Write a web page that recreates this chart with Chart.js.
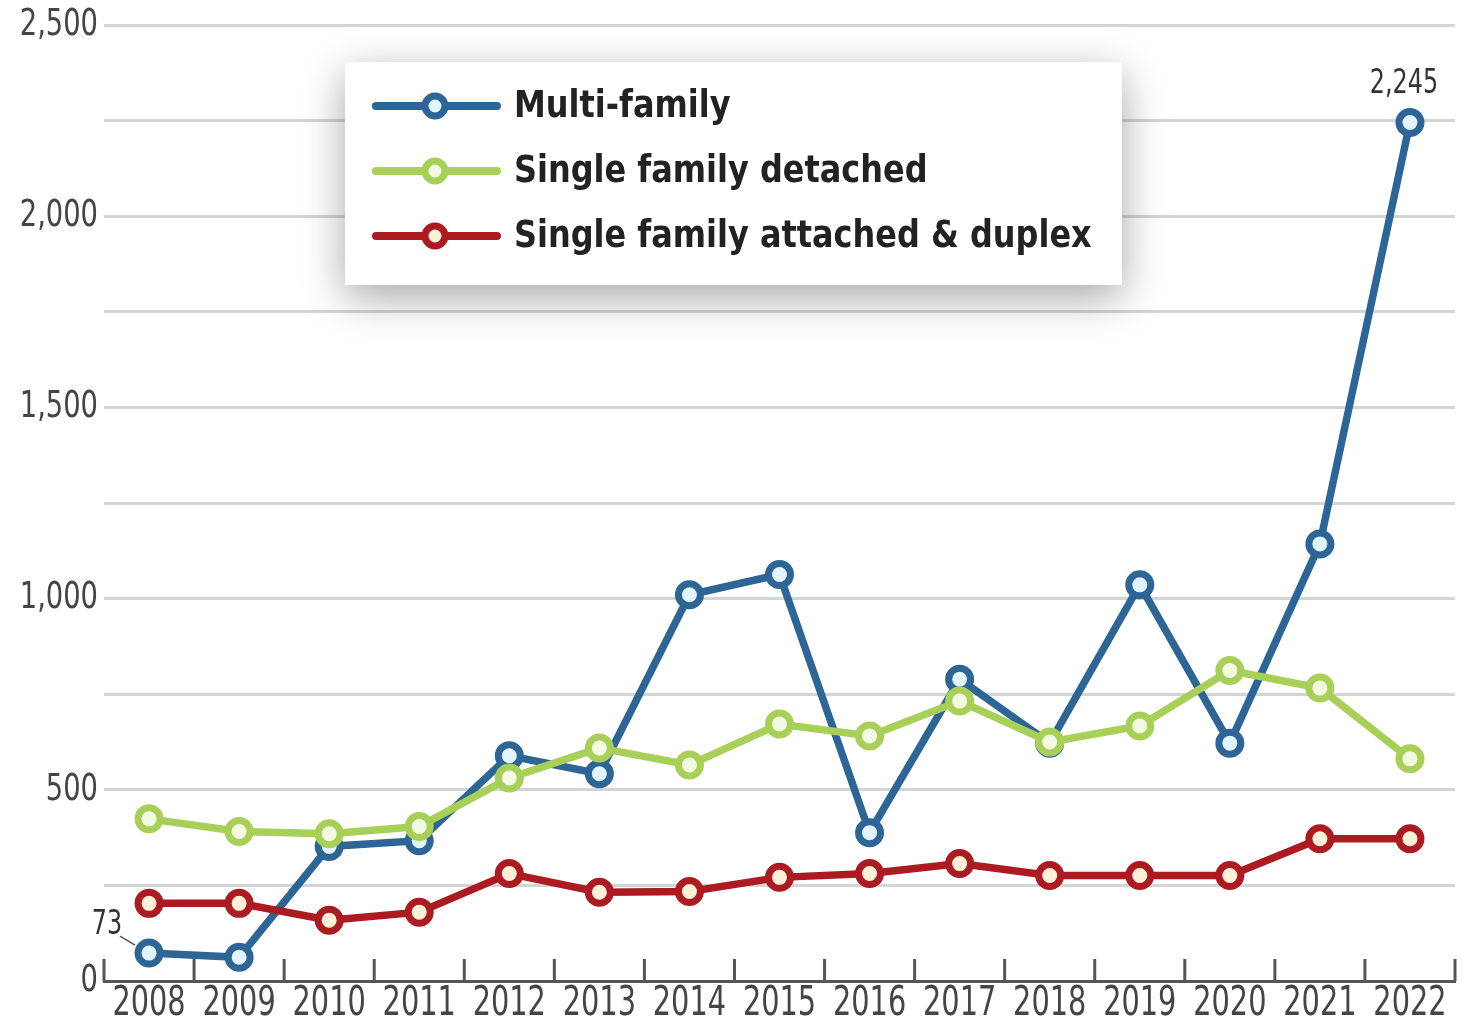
<!DOCTYPE html>
<html>
<head>
<meta charset="utf-8">
<script src="https://cdn.jsdelivr.net/npm/chart.js@4.4.1/dist/chart.umd.min.js"></script>
<style>
  html, body { margin: 0; padding: 0; background: #fff; }
  #wrap { position: relative; width: 1473px; height: 1026px; }
</style>
</head>
<body>
<div id="wrap"><canvas id="housingChart"></canvas></div>
<script>
// --- Data ---
const years = ['2008', '2009', '2010', '2011', '2012', '2013', '2014', '2015',
               '2016', '2017', '2018', '2019', '2020', '2021', '2022'];
const multiFamily = [73, 62, 352, 367, 589, 542, 1010, 1063, 388, 789, 622, 1036, 622, 1143, 2245];
const singleDetached = [424, 391, 385, 404, 531, 609, 565, 672, 641, 732, 625, 667, 812, 766, 581];
const singleAttached = [203, 203, 159, 180, 281, 232, 234, 271, 281, 307, 276, 276, 276, 372, 372];
const yTickLabels = [0, 500, 1000, 1500, 2000, 2500];
const seriesNames = ['Multi-family', 'Single family detached', 'Single family attached & duplex'];
const seriesColors = ['#2d6696', '#a8cf58', '#ab1b21'];
const pointFills = ['#e2f5ff', '#f3fae2', '#fff1d8'];

// No narrow font installed, so condensed text gets squeezed a bit more
const FONT = "'DejaVu Sans Condensed', 'DejaVu Sans', sans-serif";

function drawNarrow(ctx, text, x, y, align, squeeze) {
    ctx.save();
    ctx.translate(x, y);
    ctx.scale(squeeze, 1);
    ctx.textAlign = align;
    ctx.fillText(text, 0, 0);
    ctx.restore();
}

// Tick marks on the x axis pointing up into the plot, plus the tick labels
const axisTicks = {
    id: 'axisTicks',
    afterDraw(chart) {
        const { ctx, chartArea, scales: { x, y } } = chart;
        ctx.save();
        ctx.strokeStyle = '#555';
        ctx.lineWidth = 3;
        for (let i = 0; i <= years.length; i++) {
            const px = x.getPixelForValue(i - 0.5);
            ctx.beginPath();
            ctx.moveTo(px, chartArea.bottom);
            ctx.lineTo(px, chartArea.bottom - 22);
            ctx.stroke();
        }
        ctx.fillStyle = '#454545';
        ctx.textBaseline = 'middle';
        ctx.font = '40px ' + FONT;
        years.forEach((yr, i) => {
            drawNarrow(ctx, yr, x.getPixelForValue(i), chartArea.bottom + 24, 'center', 0.8);
        });
        ctx.font = '38px ' + FONT;
        yTickLabels.forEach(v => {
            drawNarrow(ctx, v.toLocaleString('en-US'), chartArea.left - 6, y.getPixelForValue(v), 'right', 0.8);
        });
        ctx.restore();
    }
};

// Boxed legend with drop shadow
const boxLegend = {
    id: 'boxLegend',
    beforeDatasetsDraw(chart) {
        const ctx = chart.ctx;
        const box = { x: 345, y: 62, w: 777, h: 223 };
        ctx.save();
        ctx.shadowColor = 'rgba(0,0,0,0.35)';
        ctx.shadowBlur = 40;
        ctx.shadowOffsetY = 12;
        ctx.fillStyle = '#fff';
        ctx.fillRect(box.x, box.y, box.w, box.h);
        ctx.restore();

        ctx.save();
        chart.data.datasets.forEach((ds, i) => {
            const cy = box.y + 44 + i * 65;
            ctx.strokeStyle = ds.borderColor;
            ctx.lineWidth = 8;
            ctx.lineCap = 'round';
            ctx.beginPath();
            ctx.moveTo(376, cy);
            ctx.lineTo(497, cy);
            ctx.stroke();
            ctx.beginPath();
            ctx.arc(435, cy, 10, 0, Math.PI * 2);
            ctx.fillStyle = ds.pointBackgroundColor;
            ctx.fill();
            ctx.lineWidth = 7;
            ctx.stroke();
            ctx.fillStyle = '#222';
            ctx.font = 'bold 37px ' + FONT;
            ctx.textBaseline = 'middle';
            drawNarrow(ctx, ds.label, 514, cy + 1, 'left', 0.96);
        });
        ctx.restore();
    }
};

// Value labels on the first and last multi-family points
const endLabels = {
    id: 'endLabels',
    afterDatasetsDraw(chart) {
        const ctx = chart.ctx;
        const pts = chart.getDatasetMeta(0).data;
        const first = pts[0];
        const last = pts[pts.length - 1];
        ctx.save();
        ctx.fillStyle = '#333';
        ctx.font = '34px ' + FONT;
        ctx.textBaseline = 'middle';
        drawNarrow(ctx, multiFamily[multiFamily.length - 1].toLocaleString('en-US'), last.x - 6, last.y - 38, 'center', 0.78);
        drawNarrow(ctx, multiFamily[0].toLocaleString('en-US'), first.x - 42, first.y - 28, 'center', 0.78);
        ctx.strokeStyle = '#555';
        ctx.lineWidth = 1.5;
        ctx.beginPath();
        ctx.moveTo(first.x - 29, first.y - 17);
        ctx.lineTo(first.x - 14, first.y - 8);
        ctx.stroke();
        ctx.restore();
    }
};

const datasets = [multiFamily, singleDetached, singleAttached].map((values, i) => ({
    label: seriesNames[i],
    data: values,
    borderColor: seriesColors[i],
    backgroundColor: seriesColors[i],
    pointBackgroundColor: pointFills[i],
    pointBorderColor: seriesColors[i],
    borderWidth: 7.5,
    pointRadius: 11,
    pointBorderWidth: 7,
    tension: 0,
    clip: false,
    order: 3 - i
}));

const ctx = document.getElementById('housingChart').getContext('2d');
const housingChart = new Chart(ctx, {
    type: 'line',
    data: { labels: years, datasets: datasets },
    options: {
        responsive: true,
        maintainAspectRatio: false,
        animation: false,
        layout: { padding: { left: 0, right: 14, top: 25, bottom: 45 } },
        plugins: {
            legend: { display: false },
            tooltip: { enabled: false }
        },
        scales: {
            x: {
                offset: true,
                grid: { display: false, drawTicks: false, offset: true },
                border: { display: true, color: '#555', width: 3 },
                ticks: { display: false, autoSkip: false }
            },
            y: {
                min: 0,
                max: 2500,
                afterFit(scale) { scale.width = 104; },
                grid: { color: '#d4d4d4', lineWidth: 3, drawTicks: false },
                border: { display: false },
                ticks: { display: false, stepSize: 250 }
            }
        }
    },
    plugins: [axisTicks, boxLegend, endLabels]
});
</script>
</body>
</html>
